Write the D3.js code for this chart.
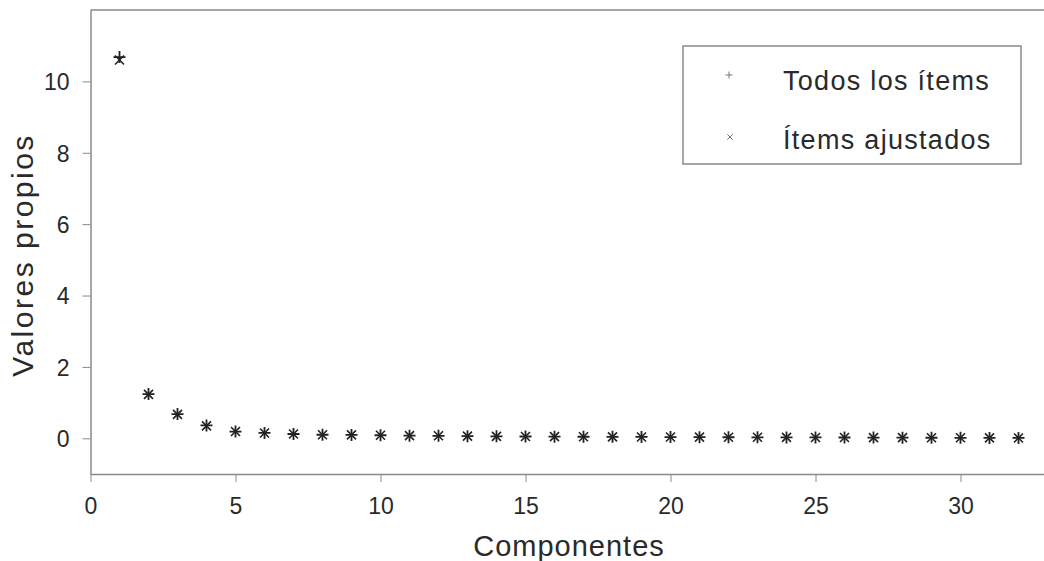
<!DOCTYPE html>
<html><head><meta charset="utf-8">
<script src="https://cdn.jsdelivr.net/npm/d3@7"></script>
<style>body{margin:0;background:#fff;} svg{display:block;font-family:"Liberation Sans",Arial,sans-serif;}</style>
</head><body>
<svg id="c" width="1044" height="561"></svg>
<script>
const components = d3.range(1, 33);
const todosItems = [10.68,1.24,0.68,0.36,0.19,0.15,0.12,0.1,0.095,0.085,0.075,0.07,0.06,0.055,0.05,0.047,0.044,0.041,0.038,0.035,0.032,0.03,0.028,0.026,0.024,0.022,0.02,0.018,0.016,0.014,0.012,0.01];
const itemsAjustados = [10.6,1.23,0.67,0.35,0.19,0.15,0.12,0.1,0.095,0.085,0.075,0.07,0.06,0.055,0.05,0.047,0.044,0.041,0.038,0.035,0.032,0.03,0.028,0.026,0.024,0.022,0.02,0.018,0.016,0.014,0.012,0.01];
const xTicks = [0,5,10,15,20,25,30];
const yTicks = [0,2,4,6,8,10];
const legendLabels = ["Todos los ítems","Ítems ajustados"];

const svg = d3.select("#c");
const x = d3.scaleLinear().domain([0,33]).range([90.5, 90.5+33*29]);
const y = d3.scaleLinear().domain([-1,12]).range([474, 10]);
const axisColor = "#8a8a8a";
const textColor = "#2a2a2a";

// frame top line
svg.append("line").attr("x1",x(0)).attr("x2",1044).attr("y1",y(12)).attr("y2",y(12)).attr("stroke",axisColor).attr("stroke-width",1.5);

const xa = svg.append("g").attr("transform",`translate(0,${y(-1)})`)
  .call(d3.axisBottom(x).tickValues(xTicks).tickSize(8).tickSizeOuter(0).tickPadding(16));
const ya = svg.append("g").attr("transform",`translate(${x(0)},0)`)
  .call(d3.axisLeft(y).tickValues(yTicks).tickSize(8).tickSizeOuter(0).tickPadding(13));
[xa,ya].forEach(a=>{
  a.attr("font-size",23).attr("font-family","Liberation Sans, Arial, sans-serif");
  a.select(".domain").attr("stroke",axisColor).attr("stroke-width",1.5);
  a.selectAll(".tick line").attr("stroke",axisColor);
  a.selectAll(".tick text").attr("fill",textColor);
});
ya.selectAll(".tick text").attr("dy","0.36em");

svg.append("text").attr("x",x(16.5)).attr("y",556).attr("text-anchor","middle")
  .attr("font-size",29).attr("letter-spacing",1).attr("fill",textColor).text("Componentes");
svg.append("text").attr("transform",`translate(33,255) rotate(-90)`).attr("text-anchor","middle")
  .attr("font-size",30).attr("letter-spacing",2.5).attr("fill",textColor).text("Valores propios");

function plus(g, cx, cy, r, sw, col){
  g.append("path").attr("d",`M${cx-r},${cy}H${cx+r}M${cx},${cy-r}V${cy+r}`).attr("stroke",col).attr("stroke-width",sw).attr("fill","none");
}
function cross(g, cx, cy, r, sw, col){
  g.append("path").attr("d",`M${cx-r},${cy-r}L${cx+r},${cy+r}M${cx-r},${cy+r}L${cx+r},${cy-r}`).attr("stroke",col).attr("stroke-width",sw).attr("fill","none");
}
const pts = svg.append("g");
components.forEach((c,i)=>{
  plus(pts, x(c), y(todosItems[i]), 6, 1.8, "#222");
  cross(pts, x(c), y(itemsAjustados[i]), 4.5, 1.6, "#222");
});

// legend
const lg = svg.append("g");
lg.append("rect").attr("x",683).attr("y",46).attr("width",338).attr("height",118)
  .attr("fill","#fff").attr("stroke",axisColor).attr("stroke-width",1.5);
plus(lg, 729, 75, 3.5, 1, "#777");
cross(lg, 730, 137, 2.7, 1, "#777");
lg.append("text").attr("x",783).attr("y",90).attr("font-size",27).attr("letter-spacing",1.3).attr("fill",textColor).text(legendLabels[0]);
lg.append("text").attr("x",783).attr("y",149).attr("font-size",27).attr("letter-spacing",1.3).attr("fill",textColor).text(legendLabels[1]);
</script>
</body></html>
